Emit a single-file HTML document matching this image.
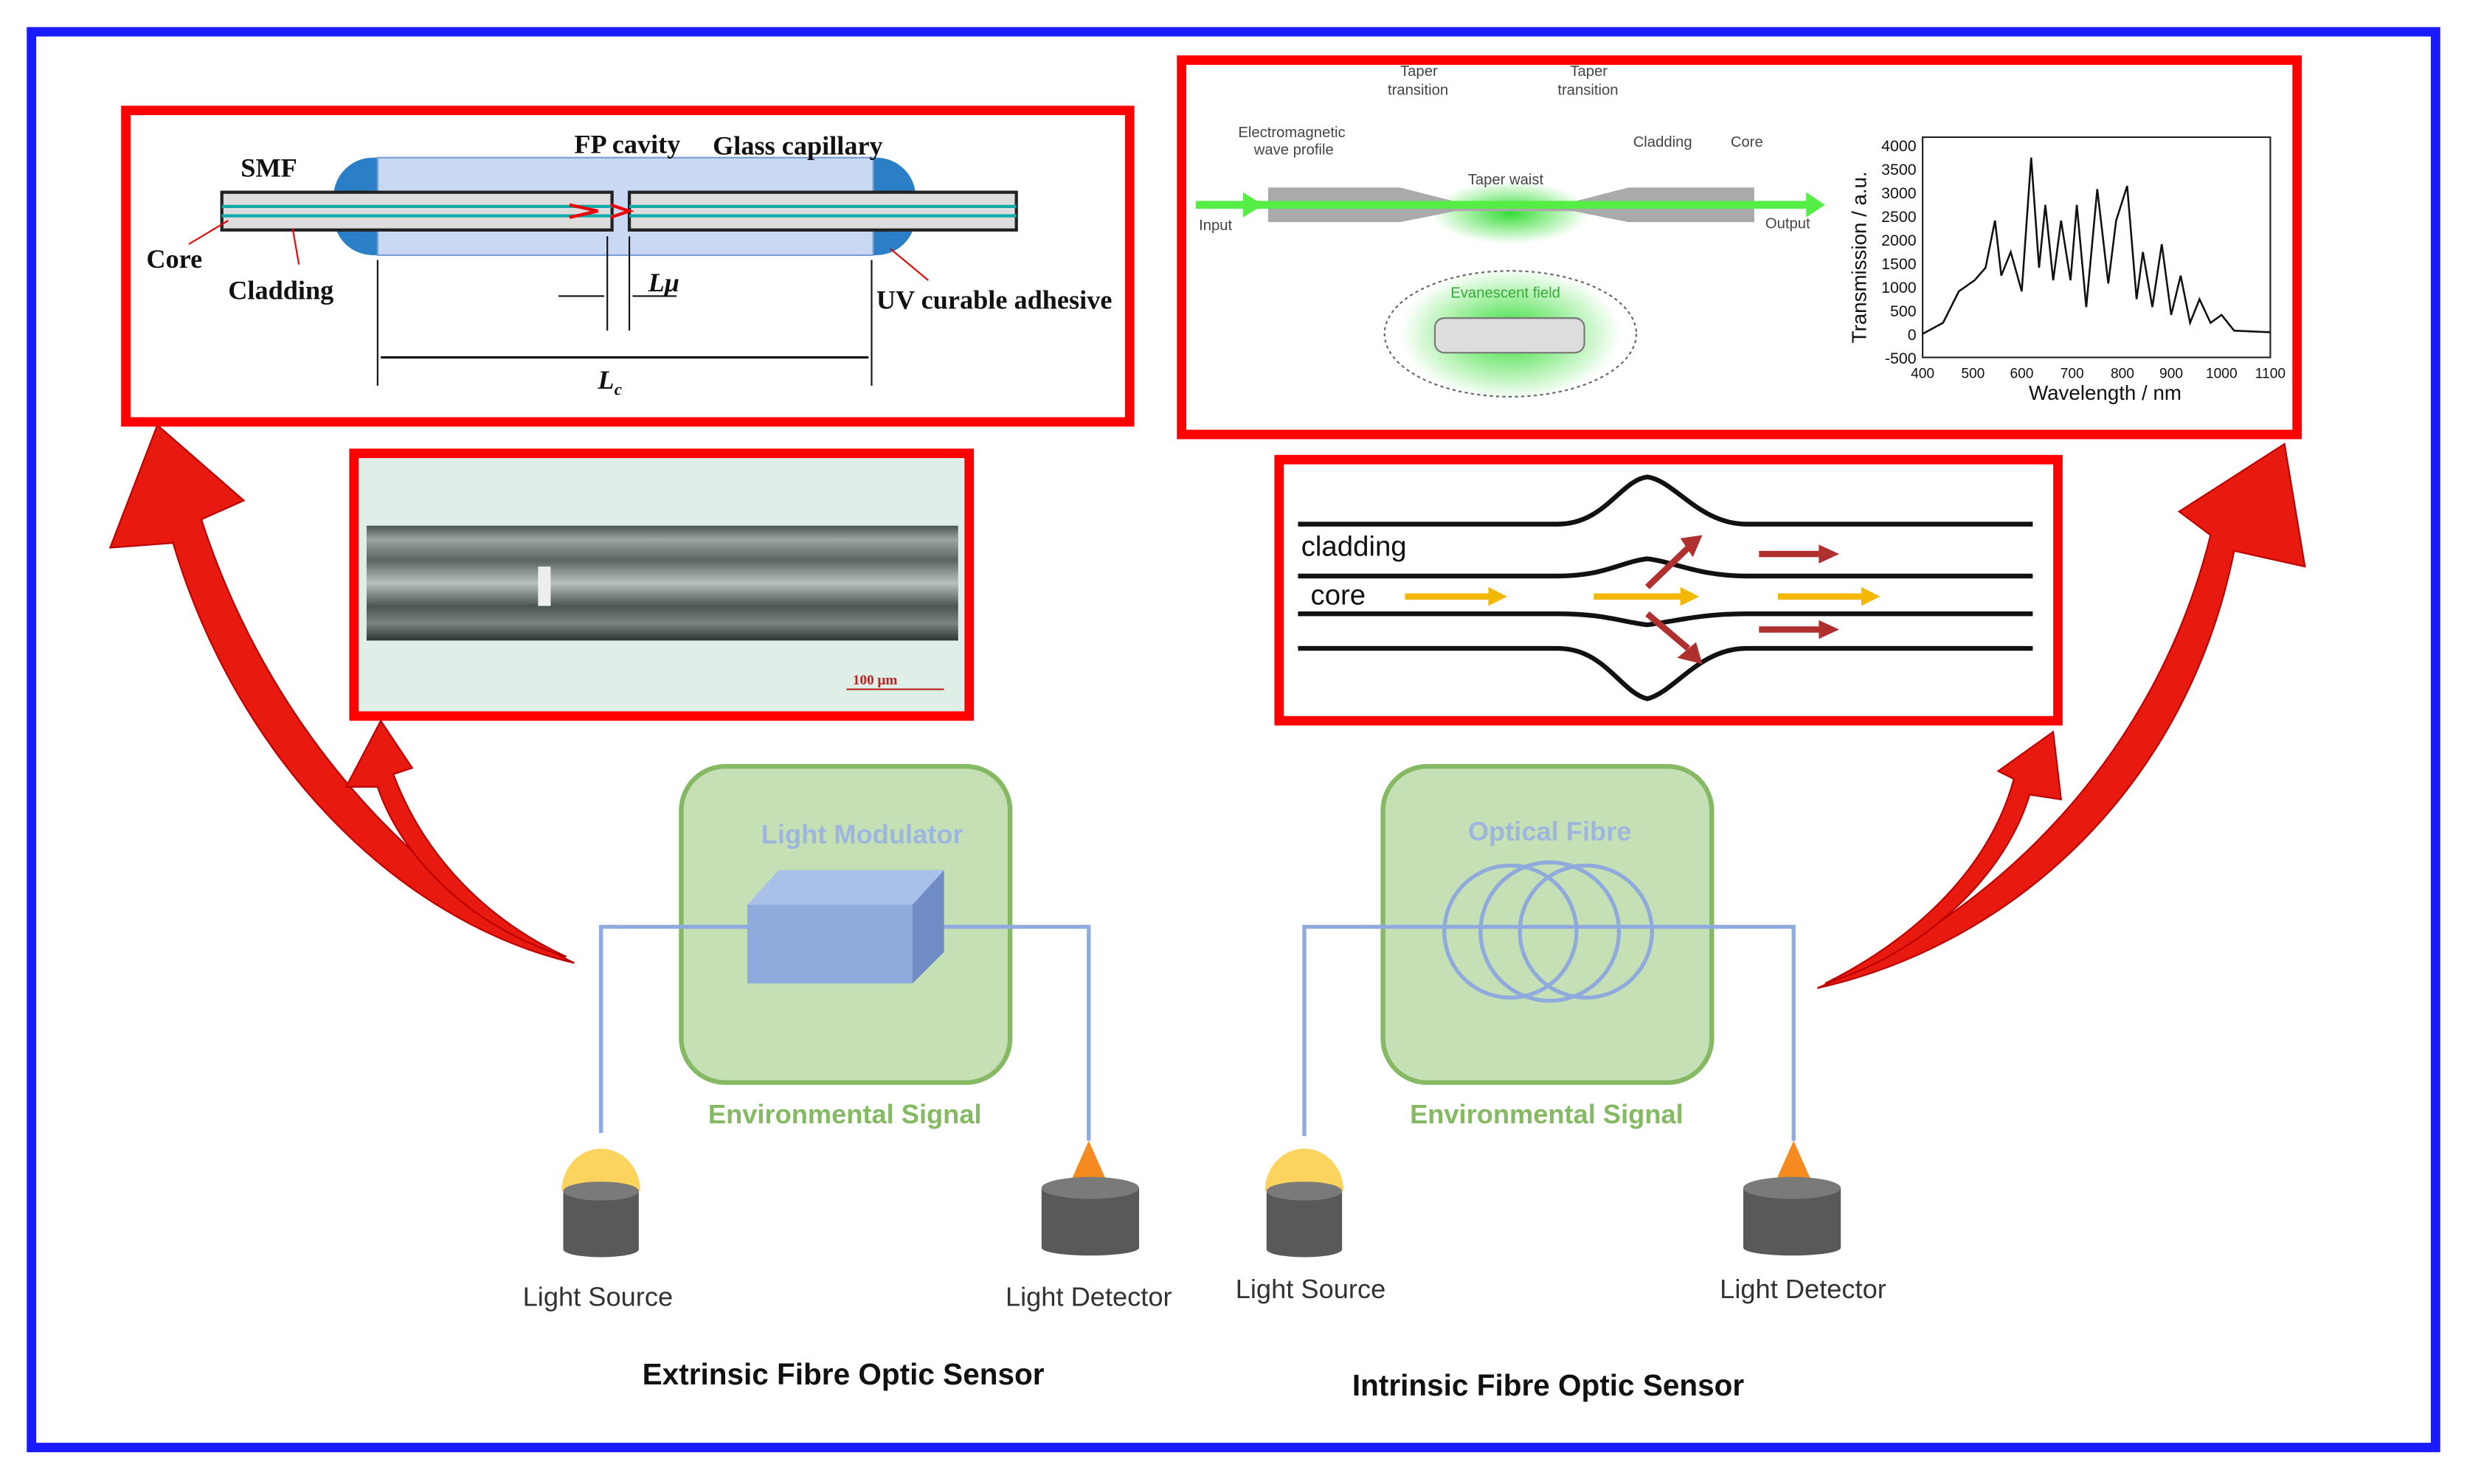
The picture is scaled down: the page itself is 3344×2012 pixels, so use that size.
<!DOCTYPE html>
<html><head><meta charset="utf-8"><style>
html,body{margin:0;padding:0;background:#fff}
svg{display:block}
text{font-family:"Liberation Sans",sans-serif}
text.sf{font-family:"Liberation Serif",serif}
</style></head><body>
<svg width="3344" height="2012" viewBox="0 0 1568 943" xmlns="http://www.w3.org/2000/svg">
<defs>
<linearGradient id="photo" x1="0" y1="0" x2="0" y2="1">
<stop offset="0" stop-color="#4a5550"/><stop offset="0.12" stop-color="#9aa59f"/>
<stop offset="0.3" stop-color="#5a6560"/><stop offset="0.5" stop-color="#b8c2bc"/>
<stop offset="0.7" stop-color="#4a5550"/><stop offset="0.85" stop-color="#7a8580"/>
<stop offset="1" stop-color="#2c3531"/>
</linearGradient>
<radialGradient id="glow"><stop offset="0" stop-color="#33dd33"/><stop offset="1" stop-color="#33dd33" stop-opacity="0"/></radialGradient>
</defs>
<rect x="0" y="0" width="1568" height="943" fill="#fff"/>
<rect x="20" y="20" width="1528" height="900" fill="none" stroke="#1a1aff" stroke-width="6"/>

<path d="M365,612 C250,585 150,480 110,345 L70,348 L100,270 L155,318 L128,330 C170,460 260,560 365,612 Z" fill="#e8190f" stroke="#b00" stroke-width="1"/>
<path d="M360,608 C300,590 255,545 240,500 L220,500 L242,458 L262,488 L250,492 C270,545 310,585 360,608 Z" fill="#e8190f" stroke="#b00" stroke-width="1"/>
<path d="M1155,628 C1280,600 1390,500 1420,350 L1465,360 L1452,282 L1385,325 L1405,340 C1370,480 1270,580 1155,628 Z" fill="#e8190f" stroke="#b00" stroke-width="1"/>
<path d="M1160,625 C1225,605 1275,555 1290,505 L1310,508 L1305,465 L1270,490 L1280,495 C1265,550 1220,595 1160,625 Z" fill="#e8190f" stroke="#b00" stroke-width="1"/>

<rect x="80" y="70" width="638" height="198" fill="#fff" stroke="#f00" stroke-width="6"/>
<rect x="212" y="100" width="370" height="62" rx="25" fill="#2a7fc6"/>
<rect x="240" y="100" width="315" height="62" fill="#c9d9f3" stroke="#7a9bd6"/>
<rect x="141" y="122" width="248" height="24" fill="#ddd" stroke="#222" stroke-width="2"/>
<rect x="400" y="122" width="246" height="24" fill="#ddd" stroke="#222" stroke-width="2"/>
<line x1="141" y1="131" x2="389" y2="131" stroke="#1aa" stroke-width="2"/><line x1="141" y1="137" x2="389" y2="137" stroke="#1aa" stroke-width="2"/>
<line x1="400" y1="131" x2="646" y2="131" stroke="#1aa" stroke-width="2"/><line x1="400" y1="137" x2="646" y2="137" stroke="#1aa" stroke-width="2"/>
<path d="M362,130 L380,134 L362,138 M388,130 L400,134 L388,138" stroke="#e00" stroke-width="2" fill="none"/>
<g font-weight="bold" font-size="17" fill="#111">
<text class="sf" x="153" y="112">SMF</text><text class="sf" x="365" y="97">FP cavity</text><text class="sf" x="453" y="98">Glass capillary</text>
<text class="sf" x="93" y="170">Core</text><text class="sf" x="145" y="190">Cladding</text><text class="sf" x="557" y="196">UV curable adhesive</text>
<text class="sf" x="412" y="185" font-style="italic">Lμ</text><text class="sf" x="380" y="247" font-style="italic">L<tspan font-size="11" dy="4">c</tspan></text></g>
<line x1="120" y1="155" x2="145" y2="140" stroke="#e00"/><line x1="190" y1="168" x2="186" y2="145" stroke="#e00"/><line x1="590" y1="178" x2="566" y2="158" stroke="#e00"/>
<line x1="386" y1="150" x2="386" y2="210" stroke="#111"/><line x1="400" y1="150" x2="400" y2="210" stroke="#111"/>
<line x1="355" y1="188" x2="384" y2="188" stroke="#111"/><line x1="402" y1="188" x2="430" y2="188" stroke="#111"/>
<line x1="240" y1="165" x2="240" y2="245" stroke="#111"/><line x1="554" y1="165" x2="554" y2="245" stroke="#111"/>
<line x1="242" y1="227" x2="552" y2="227" stroke="#111" stroke-width="1.5"/>

<rect x="751" y="38" width="709" height="238" fill="#fff" stroke="#f00" stroke-width="6"/>
<ellipse cx="960" cy="135" rx="50" ry="20" fill="url(#glow)"/>
<ellipse cx="960" cy="212" rx="70" ry="42" fill="url(#glow)"/>
<ellipse cx="960" cy="212" rx="80" ry="40" fill="none" stroke="#666" stroke-dasharray="2,2"/>
<path d="M806,119 L890,119 L925,128 L1000,128 L1035,119 L1115,119 L1115,141 L1035,141 L1000,134 L925,134 L890,141 L806,141Z" fill="#aaa"/>
<line x1="760" y1="130" x2="1150" y2="130" stroke="#55ee44" stroke-width="5"/>
<path d="M790,122 L803,130 L790,138Z M1148,122 L1160,130 L1148,138Z" fill="#55ee44"/>
<rect x="912" y="202" width="95" height="22" rx="6" fill="#ddd" stroke="#777"/>
<g font-size="9.5" fill="#444"><text x="762" y="146">Input</text><text x="1122" y="145">Output</text>
<text x="787" y="87">Electromagnetic</text><text x="797" y="98">wave profile</text>
<text x="890" y="48">Taper</text><text x="882" y="60">transition</text><text x="998" y="48">Taper</text><text x="990" y="60">transition</text>
<text x="933" y="117">Taper waist</text><text x="1038" y="93">Cladding</text><text x="1100" y="93">Core</text>
<text x="922" y="189" fill="#3a3">Evanescent field</text></g>
<rect x="1222" y="87" width="221" height="140" fill="#fff" stroke="#222"/>
<polyline points="1222,212 1235,205 1245,185 1255,178 1262,170 1268,140 1272,175 1278,160 1285,185 1291,100 1296,170 1300,130 1305,178 1310,140 1316,178 1320,130 1326,195 1333,120 1340,180 1345,140 1352,118 1358,190 1362,160 1368,195 1374,155 1380,200 1386,175 1392,205 1398,190 1405,205 1412,200 1420,210 1443,211" fill="none" stroke="#111" stroke-width="1.2"/>
<g font-size="10" fill="#111" text-anchor="end"><text x="1218" y="96">4000</text><text x="1218" y="111">3500</text><text x="1218" y="126">3000</text><text x="1218" y="141">2500</text><text x="1218" y="156">2000</text><text x="1218" y="171">1500</text><text x="1218" y="186">1000</text><text x="1218" y="201">500</text><text x="1218" y="216">0</text><text x="1218" y="231">-500</text></g>
<g font-size="9" fill="#111" text-anchor="middle"><text x="1222" y="240">400</text><text x="1254" y="240">500</text><text x="1285" y="240">600</text><text x="1317" y="240">700</text><text x="1349" y="240">800</text><text x="1380" y="240">900</text><text x="1412" y="240">1000</text><text x="1443" y="240">1100</text></g>
<text x="1338" y="254" font-size="13" text-anchor="middle" fill="#111">Wavelength / nm</text>
<text transform="translate(1186,218) rotate(-90)" font-size="13" fill="#111">Transmission / a.u.</text>

<rect x="225" y="288" width="391" height="167" fill="#dfeee6" stroke="#f00" stroke-width="6"/>
<rect x="233" y="334" width="376" height="73" fill="url(#photo)"/>
<rect x="342" y="360" width="8" height="25" fill="#eee"/>
<text class="sf" x="542" y="435" font-size="9" font-weight="bold" fill="#b22">100 μm</text>
<line x1="538" y1="438" x2="600" y2="438" stroke="#b22"/>

<rect x="813" y="292" width="495" height="166" fill="#fff" stroke="#f00" stroke-width="6"/>
<g fill="none" stroke="#111" stroke-width="3">
<path d="M825,333 L990,333 C1020,333 1030,305 1047,303 C1064,305 1080,333 1110,333 L1292,333"/>
<path d="M825,366 L990,366 C1020,366 1030,357 1047,355 C1064,357 1080,366 1110,366 L1292,366"/>
<path d="M825,390 L990,390 C1020,390 1030,395 1047,397 C1064,395 1080,390 1110,390 L1292,390"/>
<path d="M825,412 L990,412 C1020,412 1030,440 1047,444 C1064,440 1080,412 1110,412 L1292,412"/></g>
<text x="827" y="353" font-size="18" fill="#111">cladding</text><text x="833" y="384" font-size="18" fill="#111">core</text>
<g stroke="#f5b800" stroke-width="4"><line x1="893" y1="379" x2="948" y2="379"/><line x1="1013" y1="379" x2="1070" y2="379"/><line x1="1130" y1="379" x2="1185" y2="379"/></g>
<g fill="#f5b800"><path d="M946,373 L958,379 L946,385Z M1068,373 L1080,379 L1068,385Z M1183,373 L1195,379 L1183,385Z"/></g>
<g stroke="#b03030" stroke-width="4"><line x1="1118" y1="352" x2="1158" y2="352"/><line x1="1118" y1="400" x2="1158" y2="400"/><line x1="1047" y1="373" x2="1073" y2="348"/><line x1="1047" y1="390" x2="1073" y2="412"/></g>
<g fill="#b03030"><path d="M1156,346 L1169,352 L1156,358Z M1156,394 L1169,400 L1156,406Z M1068,342 L1082,340 L1076,354Z M1066,418 L1082,422 L1078,408Z"/></g>

<rect x="433" y="487" width="209" height="201" rx="28" fill="#c5e0b4" stroke="#86b964" stroke-width="3"/>
<rect x="879" y="487" width="209" height="201" rx="28" fill="#c5e0b4" stroke="#86b964" stroke-width="3"/>
<g font-size="17" font-weight="bold" text-anchor="middle">
<text x="548" y="536" fill="#9db6e0">Light Modulator</text><text x="985" y="534" fill="#9db6e0">Optical Fibre</text>
<text x="537" y="714" fill="#86b964">Environmental Signal</text><text x="983" y="714" fill="#86b964">Environmental Signal</text></g>
<g fill="none" stroke="#8faadc" stroke-width="2.5">
<polyline points="382,720 382,589 475,589"/><polyline points="600,589 692,589 692,725"/>
<polyline points="829,722 829,589 1130,589 1140,589 1140,725"/>
<circle cx="960" cy="592" r="42"/><circle cx="985" cy="592" r="44"/><circle cx="1008" cy="592" r="42"/></g>
<path d="M475,575 L495,553 L600,553 L600,605 L580,625 L475,625Z" fill="#8faadc"/>
<path d="M475,575 L495,553 L600,553 L580,575Z" fill="#a9c0e8"/><path d="M580,575 L600,553 L600,605 L580,625Z" fill="#6f8cc4"/>
<g>
<path d="M357,757 A25,27 0 0 1 407,757Z" fill="#fcd35c"/><path d="M804,757 A25,27 0 0 1 854,757Z" fill="#fcd35c"/>
<path d="M680,752 L692,725 L704,752Z" fill="#f48a20"/><path d="M1128,752 L1140,725 L1152,752Z" fill="#f48a20"/>
<rect x="358" y="757" width="48" height="37" fill="#595959"/><ellipse cx="382" cy="757" rx="24" ry="6" fill="#7a7a7a"/><ellipse cx="382" cy="794" rx="24" ry="5" fill="#595959"/>
<rect x="805" y="757" width="48" height="37" fill="#595959"/><ellipse cx="829" cy="757" rx="24" ry="6" fill="#7a7a7a"/><ellipse cx="829" cy="794" rx="24" ry="5" fill="#595959"/>
<rect x="662" y="755" width="62" height="38" fill="#595959"/><ellipse cx="693" cy="755" rx="31" ry="7" fill="#7a7a7a"/><ellipse cx="693" cy="793" rx="31" ry="5" fill="#595959"/>
<rect x="1108" y="755" width="62" height="38" fill="#595959"/><ellipse cx="1139" cy="755" rx="31" ry="7" fill="#7a7a7a"/><ellipse cx="1139" cy="793" rx="31" ry="5" fill="#595959"/>
</g>
<g font-size="17" fill="#333" text-anchor="middle">
<text x="380" y="830">Light Source</text><text x="692" y="830">Light Detector</text>
<text x="833" y="825">Light Source</text><text x="1146" y="825">Light Detector</text></g>
<g font-size="19" font-weight="bold" fill="#111" text-anchor="middle">
<text x="536" y="880">Extrinsic Fibre Optic Sensor</text><text x="984" y="887">Intrinsic Fibre Optic Sensor</text></g>
</svg>
</body></html>
